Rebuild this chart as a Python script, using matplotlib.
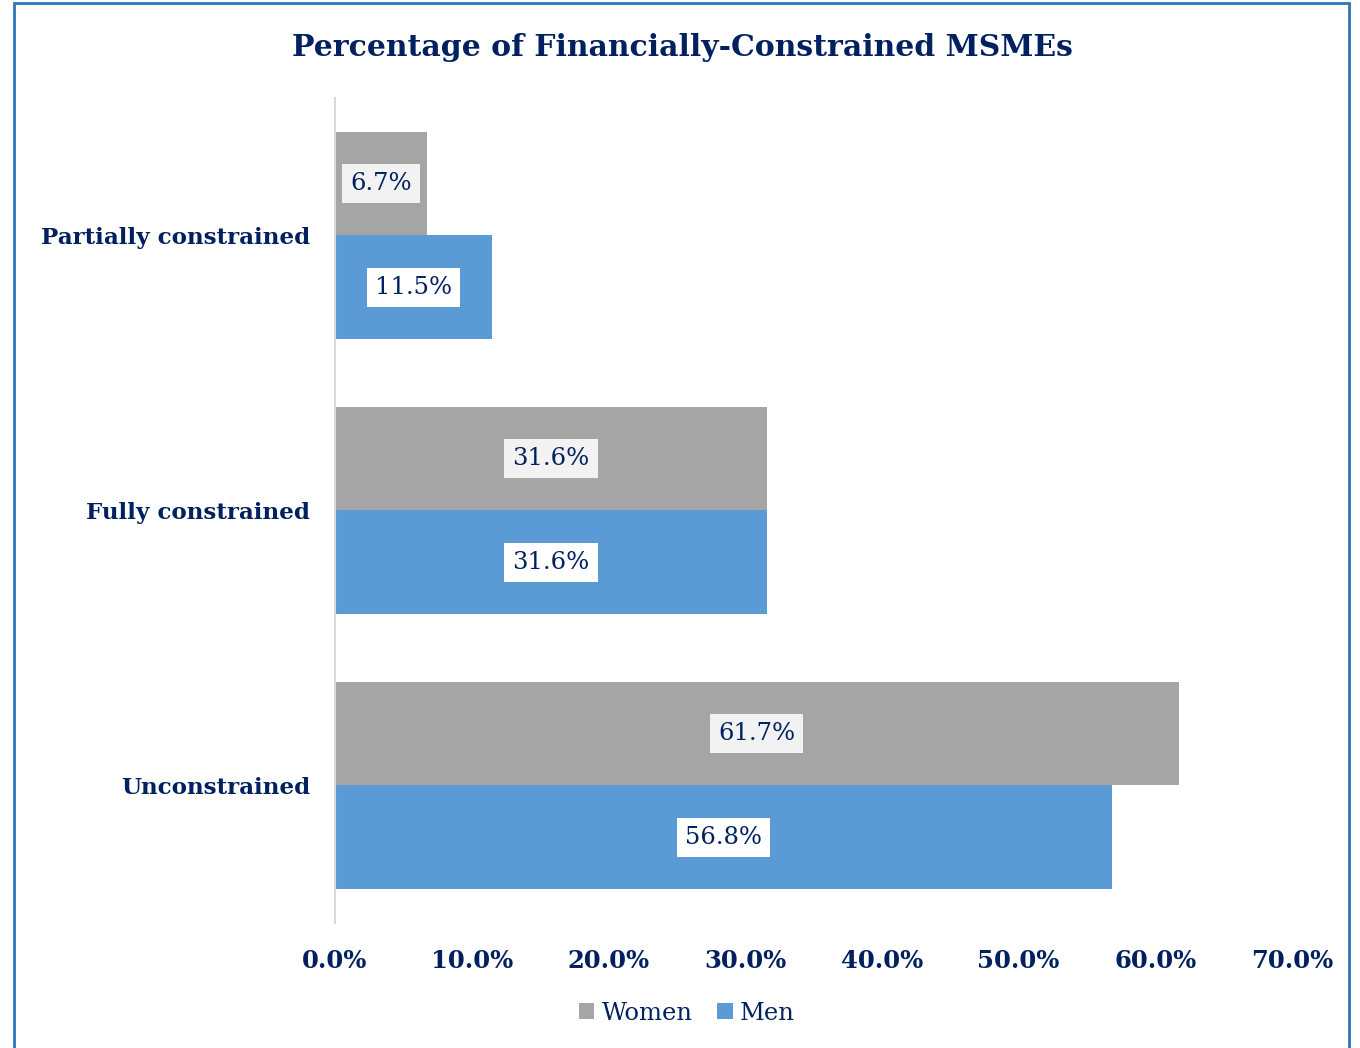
import matplotlib.pyplot as plt
import matplotlib.patches as mpatches
import numpy as np

categories = ["Unconstrained", "Fully constrained", "Partially constrained"]
women = [61.7, 31.6, 6.7]
men = [56.8, 31.6, 11.5]
xticks = [0, 10, 20, 30, 40, 50, 60, 70]

navy = "#002060"
gray = "#a5a5a5"
blue = "#5b9bd5"

plt.rcParams['font.family'] = ['DejaVu Serif']

fig = plt.figure(figsize=(13.6, 10.48), dpi=100)
ax = fig.add_axes([0.2463, 0.1193, 0.7037, 0.7872])

y = np.arange(len(categories))
h = 0.375
bw = ax.barh(y + h / 2, women, height=h, color=gray, label="Women")
bm = ax.barh(y - h / 2, men, height=h, color=blue, label="Men")

# data labels in boxes at bar centres
for bars, vals, fc in [(bw, women, "#f2f2f2"), (bm, men, "white")]:
    for b, v in zip(bars, vals):
        ax.text(v / 2, b.get_y() + b.get_height() / 2, f"{v:.1f}%",
                ha="center", va="center", fontsize=17.5, color=navy,
                bbox=dict(boxstyle="square,pad=0.33", fc=fc, ec="none"))

ax.set_xlim(0, 70)
ax.set_ylim(-0.5, 2.5)
ax.set_xticks(xticks)
ax.set_xticklabels([f"{t:.1f}%" for t in xticks], fontsize=17.5,
                   fontweight="bold", color=navy)
ax.set_yticks(y)
ax.set_yticklabels(categories, fontsize=16.6, fontweight="bold", color=navy)
ax.tick_params(length=0)
ax.tick_params(axis="x", pad=19)
ax.tick_params(axis="y", pad=18)
for s in ["top", "right", "bottom"]:
    ax.spines[s].set_visible(False)
ax.spines["left"].set_color("#d9d9d9")
ax.spines["left"].set_linewidth(1.5)

fig.text(0.5015, 0.955, "Percentage of Financially-Constrained MSMEs",
         ha="center", va="center", fontsize=21.5, fontweight="bold", color=navy)

leg = fig.legend(handles=[bw, bm], labels=["Women", "Men"], loc="center",
                 bbox_to_anchor=(0.505, 0.033), ncol=2, frameon=False,
                 fontsize=17.5, handlelength=0.65, handleheight=0.65,
                 handletextpad=0.3, columnspacing=1.0)
for t in leg.get_texts():
    t.set_color(navy)

# blue frame around the chart
fig.patches.append(mpatches.Rectangle((14 / 1360, -0.01), 1335 / 1360, 1.007,
                                      transform=fig.transFigure, fill=False,
                                      ec="#2e75b6", lw=2))

fig.savefig("out.png", dpi=100)
